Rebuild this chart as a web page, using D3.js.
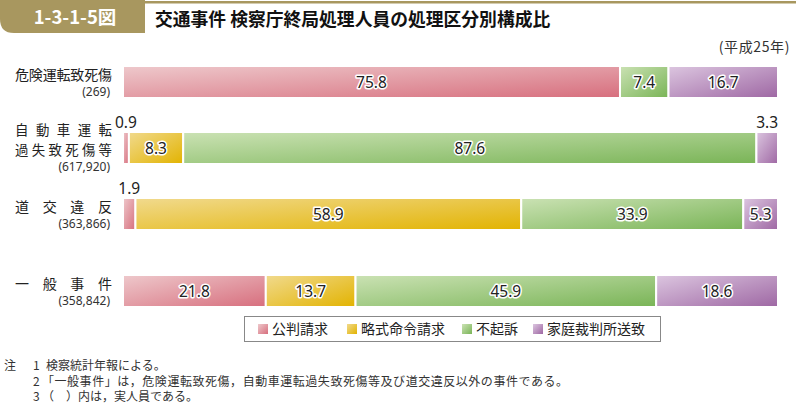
<!DOCTYPE html>
<html><head><meta charset="utf-8">
<script src="https://cdn.jsdelivr.net/npm/d3@7"></script>
<style>
html,body{margin:0;padding:0;background:#fff;}
svg{display:block;font-family:"Noto Sans CJK JP","Noto Sans",sans-serif;}
</style></head>
<body>
<svg id="chart" width="796" height="408"></svg>
<script>
// ---- data ----
const categories = ["危険運転致死傷", "自動車運転過失致死傷等", "道交違反", "一般事件"];
const categoryLines = [["危険運転致死傷"], ["自動車運転", "過失致死傷等"], ["道交違反"], ["一般事件"]];
const counts = ["(269)", "(617,920)", "(363,866)", "(358,842)"];
const seriesNames = ["公判請求", "略式命令請求", "不起訴", "家庭裁判所送致"];
const kohan   = [75.8, 0.9, 1.9, 21.8];
const ryakushiki = [0, 8.3, 58.9, 13.7];
const fukiso  = [7.4, 87.6, 33.9, 45.9];
const katei   = [16.7, 3.3, 5.3, 18.6];
const seriesValues = [kohan, ryakushiki, fukiso, katei];
const outsideThreshold = 4; // values shown above the bar
const notes = [
  ["注", "1", "検察統計年報による。"],
  ["", "2", "「一般事件」は，危険運転致死傷，自動車運転過失致死傷等及び道交違反以外の事件である。"],
  ["", "3", "（　）内は，実人員である。"]
];

const colorsLight = ["#eec9cc", "#f1da8e", "#cbe2b4", "#dcc6e0"];
const colorsDark  = ["#d76e7d", "#e2b300", "#79b456", "#9e67a3"];

const svg = d3.select("#chart");
const defs = svg.append("defs");
seriesNames.forEach((s, i) => {
  const g = defs.append("linearGradient").attr("id", "grad" + i)
    .attr("x1", 0).attr("y1", 0).attr("x2", 1).attr("y2", 1);
  g.append("stop").attr("offset", "0%").attr("stop-color", colorsLight[i]);
  g.append("stop").attr("offset", "100%").attr("stop-color", colorsDark[i]);
});

// ---- header ----
const gold = "#a8975f";
svg.append("rect").attr("x", 140).attr("y", 1).attr("width", 656).attr("height", 2.5).attr("fill", gold);
svg.append("path").attr("d", "M0,0 H145 V33 H14 Q0,33 0,19 Z").attr("fill", gold);
svg.append("text").attr("x", 75).attr("y", 24).attr("text-anchor", "middle")
  .attr("fill", "#fff").attr("font-weight", "bold").attr("font-size", 18.5).text("1-3-1-5図");
svg.append("text").attr("x", 155).attr("y", 26).attr("fill", "#111")
  .attr("font-weight", "bold").attr("font-size", 17.8).text("交通事件 検察庁終局処理人員の処理区分別構成比");
svg.append("text").attr("x", 790).attr("y", 52).attr("text-anchor", "end")
  .attr("fill", "#333").attr("font-size", 14).attr("letter-spacing", 0.6).text("(平成25年)");

// ---- scales ----
const table = categories.map((c, i) => {
  const o = {category: c};
  seriesNames.forEach((s, j) => o[s] = seriesValues[j][i]);
  return o;
});
const stack = d3.stack().keys(seriesNames).offset(d3.stackOffsetExpand);
const stacked = stack(table);

const x = d3.scaleLinear().domain([0, 1]).range([123, 778]);
const y = d3.scaleOrdinal().domain(categories).range([66, 132, 198, 275]);
const barH = 32;

// ---- bars ----
const layers = svg.append("g").selectAll("g").data(stacked).join("g")
  .attr("fill", (d, i) => `url(#grad${i})`);
layers.selectAll("rect").data(d => d.filter(p => p[1] - p[0] > 0)).join("rect")
  .attr("x", d => x(d[0]))
  .attr("y", d => y(d.data.category))
  .attr("width", d => x(d[1]) - x(d[0]))
  .attr("height", barH)
  .attr("stroke", "#fff").attr("stroke-width", 2);

// ---- value labels ----
stacked.forEach((layer, i) => {
  layer.forEach((p, r) => {
    const v = seriesValues[i][r];
    if (!v) return;
    const cx = (x(p[0]) + x(p[1])) / 2;
    const cy = y(p.data.category);
    if (v < outsideThreshold) {
      svg.append("text").attr("x", cx).attr("y", cy - 4).attr("text-anchor", "middle")
        .attr("font-family", "'Noto Sans',sans-serif").attr("font-size", 15.5).attr("fill", "#222")
        .text(v.toFixed(1));
    } else {
      svg.append("text").attr("x", cx).attr("y", cy + barH / 2 + 5.5).attr("text-anchor", "middle")
        .attr("font-family", "'Noto Sans',sans-serif").attr("font-size", 15.5).attr("fill", "#222")
        .attr("stroke", "#fff").attr("stroke-width", 3).attr("stroke-linejoin", "round")
        .attr("paint-order", "stroke").text(v.toFixed(1));
    }
  });
});

// ---- category labels ----
categories.forEach((c, i) => {
  const lines = categoryLines[i];
  const cy = y(c) + barH / 2;
  const starts = lines.length === 1 ? [cy - 7] : [cy - 18, cy + 1.6];
  const fs = lines.length === 1 ? 14 : 13.4;
  lines.forEach((ln, k) => {
    svg.append("text").attr("x", 15).attr("y", starts[k] + 5)
      .attr("font-size", fs).attr("fill", "#222")
      .attr("textLength", 97).attr("lengthAdjust", "spacing").text(ln);
  });
  svg.append("text").attr("x", 110).attr("y", starts[lines.length - 1] + 21)
    .attr("text-anchor", "end").attr("font-family", "'Noto Sans',sans-serif")
    .attr("font-size", 12).attr("fill", "#333").text(counts[i]);
});

// ---- legend ----
const lg = svg.append("g");
lg.append("rect").attr("x", 244.5).attr("y", 316.5).attr("width", 416).attr("height", 25)
  .attr("fill", "#fff").attr("stroke", "#888").attr("stroke-width", 1);
const legendX = [258, 347, 462, 533];
seriesNames.forEach((s, i) => {
  lg.append("rect").attr("x", legendX[i]).attr("y", 324).attr("width", 10).attr("height", 10)
    .attr("fill", `url(#grad${i})`);
  lg.append("text").attr("x", legendX[i] + 14).attr("y", 334).attr("font-size", 14)
    .attr("fill", "#222").text(s);
});

// ---- notes ----
notes.forEach((n, i) => {
  const yy = 370 + i * 15.6;
  svg.append("text").attr("x", 4).attr("y", yy).attr("font-size", 12).attr("fill", "#333").text(n[0]);
  svg.append("text").attr("x", 33).attr("y", yy).attr("font-size", 12).attr("fill", "#333").text(n[1]);
  svg.append("text").attr("x", n[2].startsWith("「") || n[2].startsWith("（") ? 42 : 46).attr("y", yy)
    .attr("font-size", 12).attr("fill", "#333")
    .attr("textLength", n[2].startsWith("「") ? 526 : null).attr("lengthAdjust", "spacing").text(n[2]);
});
</script>
</body></html>
